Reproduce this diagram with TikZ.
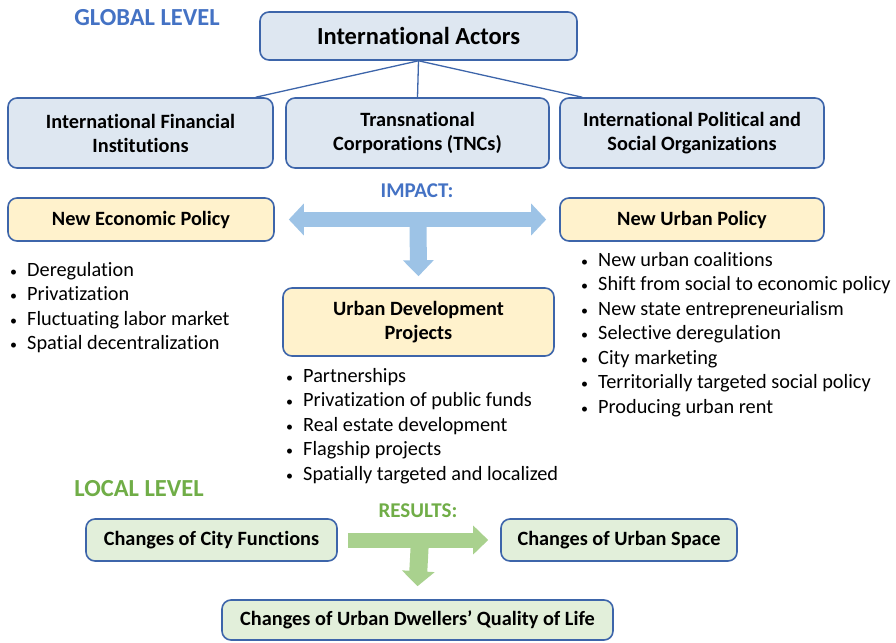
\documentclass[tikz,border=0pt]{standalone}
\usepackage{fontspec}
\setmainfont[Ligatures = CommonOff]{Carlito}
\usetikzlibrary{arrows.meta}

\definecolor{boxline}{HTML}{3D65AA}
\definecolor{globalfill}{HTML}{DEE7F1}
\definecolor{policyfill}{HTML}{FFF2CC}
\definecolor{localfill}{HTML}{E2EFDA}
\definecolor{globalblue}{HTML}{4472C4}
\definecolor{localgreen}{HTML}{70AD47}
\definecolor{impactblue}{HTML}{9DC3E6}
\definecolor{resultgreen}{HTML}{A9D18E}

\tikzset{
    box/.style = {draw = boxline, line width = 1.6pt, rounded corners = 9pt, align = center, inner sep = 0pt,
        font = \fontsize{20.3}{24}\selectfont\bfseries},
    global/.style = {box, fill = globalfill},
    policy/.style = {box, fill = policyfill},
    local/.style = {box, fill = localfill},
    level/.style = {font = \fontsize{24.5}{28}\selectfont\bfseries},
    label/.style = {font = \fontsize{21}{24}\selectfont\bfseries},
    bullets/.style = {anchor = north west, align = left, inner sep = 0pt, font = \fontsize{20.3}{24.5}\selectfont},
    fat/.style = {line width = 15pt, -{Triangle[length = 15pt, width = 30pt]}}
}
\newcommand{\itm}{\makebox[19pt][l]{\hspace{2pt}{\fontsize{14}{14}\selectfont\textbullet}}}

\begin{document}
\begin{tikzpicture}[x = 1pt, y = -1pt]
        \useasboundingbox (0, 0) rectangle (896, 642);

        % Global level
        \node [level, text = globalblue] (global) at (147, 18) {GLOBAL LEVEL};
        \node [global, minimum width = 317, minimum height = 48, font = \fontsize{24.5}{28}\selectfont\bfseries] (actors) at (418.5, 36) {International Actors};
        \node [global, minimum width = 265, minimum height = 70] (ifi) at (140.5, 133) {International Financial\\Institutions};
        \node [global, minimum width = 263, minimum height = 70] (tnc) at (417.5, 133) {Transnational\\Corporations (TNCs)};
        \node [global, minimum width = 264, minimum height = 70] (ipso) at (692, 133) {International Political and\\Social Organizations};

        % Tree lines
        \draw [boxline, line width = 1.3pt] (actors.south) -- ([xshift = -18pt]ifi.north east);
        \draw [boxline, line width = 1.3pt] (actors.south) -- (tnc.north);
        \draw [boxline, line width = 1.3pt] (actors.south) -- ([xshift = 23pt]ipso.north west);

        % Policies
        \node [label, text = globalblue] (impact) at (417, 191) {IMPACT:};
        \node [policy, minimum width = 266, minimum height = 43] (nep) at (141, 219.5) {New Economic Policy};
        \node [policy, minimum width = 264, minimum height = 43] (nup) at (692, 219.5) {New Urban Policy};
        \node [policy, minimum width = 271, minimum height = 68] (udp) at (418.5, 322) {Urban Development\\Projects};
        \coordinate (fork) at (418, 219.5);

        \node [bullets] (neplist) at (8, 262) {\itm Deregulation\\\itm Privatization\\\itm Fluctuating labor market\\\itm Spatial decentralization};
        \node [bullets] (nuplist) at (579, 252) {\itm New urban coalitions\\\itm Shift from social to economic policy\\\itm New state entrepreneurialism\\\itm Selective deregulation\\\itm City marketing\\\itm Territorially targeted social policy\\\itm Producing urban rent};
        \node [bullets] (udplist) at (284, 368) {\itm Partnerships\\\itm Privatization of public funds\\\itm Real estate development\\\itm Flagship projects\\\itm Spatially targeted and localized};

        % Impact arrows
        \draw [fat, impactblue, line width = 17pt, -{Triangle[length = 16pt, width = 30pt]}] (fork) -- ([yshift = 11pt]udp.north);
        \draw [fat, impactblue, {Triangle[length = 15pt, width = 31pt]}-{Triangle[length = 15pt, width = 31pt]}] ([xshift = 14pt]nep.east) -- ([xshift = -13pt]nup.west);

        % Local level
        \node [level, text = localgreen] (local) at (139, 489) {LOCAL LEVEL};
        \node [label, text = localgreen] (results) at (418, 511) {RESULTS:};
        \node [local, minimum width = 251, minimum height = 42] (city) at (211.5, 540) {Changes of City Functions};
        \node [local, minimum width = 236, minimum height = 42] (space) at (619, 540) {Changes of Urban Space};
        \node [local, minimum width = 391, minimum height = 40] (life) at (417.5, 620) {Changes of Urban Dwellers’ Quality of Life};
        \coordinate (split) at (420, 539.5);

        % Result arrows
        \draw [fat, resultgreen, line width = 18pt, -{Triangle[length = 15pt, width = 32pt]}] (split) -- ([yshift = 13pt]life.north);
        \draw [fat, resultgreen, -{Triangle[length = 15pt, width = 28pt]}] ([xshift = 10pt]city.east) -- ([xshift = -12pt]space.west);

    \end{tikzpicture}
\end{document}
